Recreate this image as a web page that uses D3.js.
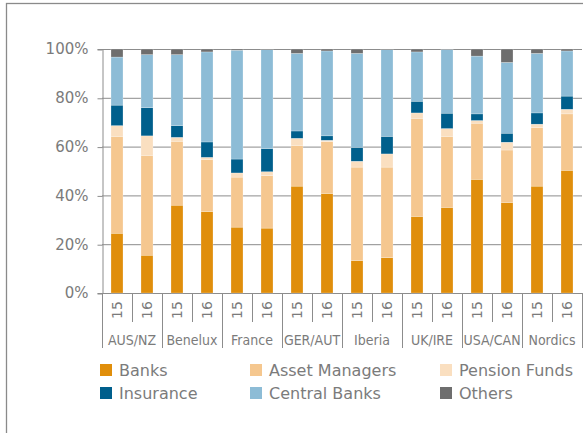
<!DOCTYPE html>
<html>
<head>
<meta charset="utf-8">
<script src="https://cdn.jsdelivr.net/npm/d3@7"></script>
<style>
  html, body { margin: 0; padding: 0; background: #fff; }
  svg { display: block; font-family: "DejaVu Sans", Verdana, sans-serif; }
</style>
</head>
<body>
<svg id="chart" width="583" height="433"></svg>
<script>
// Investor split per region and year (% of allocation)
const regions = ["AUS/NZ", "Benelux", "France", "GER/AUT", "Iberia", "UK/IRE", "USA/CAN", "Nordics"];
const years = ["15", "16"];
const seriesNames = ["Banks", "Asset Managers", "Pension Funds", "Insurance", "Central Banks", "Others"];
const seriesColors = ["#e08e0b", "#f5c78f", "#fadfc0", "#005f8c", "#8dbcd6", "#6e6e6e"];

const banks         = [24.5, 15.5, 36.0, 33.4, 27.0, 26.6, 43.8, 40.8, 13.3, 14.5, 31.4, 35.1, 46.6, 37.1, 43.8, 50.3];
const assetManagers = [39.7, 40.9, 26.2, 21.3, 20.5, 21.5, 16.7, 21.3, 38.3, 37.1, 40.2, 29.1, 23.0, 21.5, 23.9, 23.1];
const pensionFunds  = [ 4.4,  8.0,  1.6,  0.9,  1.7,  1.6,  2.9,  0.5,  2.4,  5.4,  2.2,  3.2,  1.1,  3.2,  1.5,  1.9];
const insurance     = [ 8.4, 11.5,  4.8,  6.3,  5.7,  9.5,  3.0,  1.8,  5.7,  7.2,  4.8,  6.3,  2.7,  3.7,  4.6,  5.4];
const centralBanks  = [19.7, 21.8, 29.1, 36.9, 44.6, 40.5, 31.8, 34.8, 38.5, 35.5, 20.2, 26.1, 23.7, 29.0, 24.4, 18.5];
const others        = [ 3.3,  2.3,  2.3,  1.2,  0.5,  0.3,  1.8,  0.8,  1.8,  0.3,  1.2,  0.2,  2.9,  5.5,  1.8,  0.8];

const yTicks = [0, 20, 40, 60, 80, 100];

const seriesValues = [banks, assetManagers, pensionFunds, insurance, centralBanks, others];

// One row per bar (region × year)
const rows = [];
regions.forEach((r, ri) => {
  years.forEach((yr, yi) => {
    const i = ri * years.length + yi;
    const row = { key: r + "|" + yr, region: r, year: yr };
    seriesNames.forEach((s, si) => { row[s] = seriesValues[si][i]; });
    rows.push(row);
  });
});

const svg = d3.select("#chart");
const textColor = "#7b7b7b";
const lineColor = "#8c8c8c";

// outer frame
svg.append("rect")
  .attr("x", 6.5).attr("y", 3.5)
  .attr("width", 620).attr("height", 460)
  .attr("fill", "none").attr("stroke", "#8a8a8a").attr("stroke-width", 1.3);

const plotLeft = 102, plotRight = 582, plotTop = 49, plotBottom = 293;

const x = d3.scaleBand()
  .domain(rows.map(d => d.key))
  .range([plotLeft, plotRight])
  .paddingInner(0.6)
  .paddingOuter(0.3);

const y = d3.scaleLinear().domain([0, 100]).range([plotBottom, plotTop]);

// horizontal gridlines
svg.append("g")
  .selectAll("line")
  .data(yTicks)
  .join("line")
  .attr("x1", plotLeft).attr("x2", plotRight)
  .attr("y1", d => y(d) + 0.5).attr("y2", d => y(d) + 0.5)
  .attr("stroke", lineColor).attr("stroke-width", 1);

// y axis
const yAxis = svg.append("g")
  .attr("transform", `translate(${plotLeft + 0.5},0)`)
  .call(d3.axisLeft(y).tickValues(yTicks).tickFormat(d => d + "%").tickSize(5).tickPadding(9));
yAxis.select(".domain").attr("stroke", lineColor);
yAxis.selectAll(".tick line").attr("stroke", lineColor).attr("transform", "translate(0,0.5)");
yAxis.selectAll(".tick text")
  .attr("fill", textColor)
  .style("font-size", "15px")
  .style("font-family", "'DejaVu Sans', Verdana, sans-serif");

// stacked bars
const stack = d3.stack().keys(seriesNames);
const stacked = stack(rows);

svg.append("g")
  .selectAll("g")
  .data(stacked)
  .join("g")
  .attr("fill", (d, i) => seriesColors[i])
  .selectAll("rect")
  .data(d => d)
  .join("rect")
  .attr("x", d => x(d.data.key))
  .attr("width", x.bandwidth())
  .attr("y", d => y(d[1]))
  .attr("height", d => y(d[0]) - y(d[1]))
  .attr("stroke", "#ffffff")
  .attr("stroke-width", 0.4)
  .attr("stroke-opacity", 0.6);

// x axis: year separators, region separators, labels
const step = x.step();
const xAxis = svg.append("g");
rows.forEach((d, i) => {
  const bx = plotLeft + i * step;
  const isRegionEdge = i % years.length === 0;
  xAxis.append("line")
    .attr("x1", Math.round(bx) + 0.5).attr("x2", Math.round(bx) + 0.5)
    .attr("y1", plotBottom).attr("y2", isRegionEdge ? 348 : 322)
    .attr("stroke", lineColor).attr("stroke-width", 1);
});
xAxis.append("line")
  .attr("x1", plotRight + 0.5).attr("x2", plotRight + 0.5)
  .attr("y1", plotBottom).attr("y2", 348)
  .attr("stroke", lineColor);

xAxis.selectAll("text.year")
  .data(rows)
  .join("text")
  .attr("class", "year")
  .attr("transform", d => `translate(${x(d.key) + x.bandwidth() / 2 + 5},310) rotate(-90)`)
  .attr("text-anchor", "middle")
  .attr("fill", textColor)
  .style("font-size", "14px")
  .text(d => d.year);

xAxis.selectAll("text.region")
  .data(regions)
  .join("text")
  .attr("class", "region")
  .attr("x", (d, i) => plotLeft + (i + 0.5) * step * years.length)
  .attr("y", 345)
  .attr("text-anchor", "middle")
  .attr("fill", textColor)
  .style("font-family", "'DejaVu Sans Condensed', 'DejaVu Sans', sans-serif")
  .style("font-stretch", "condensed")
  .style("font-size", "14px")
  .text(d => d);

// legend
const legendCols = [100, 250, 440];
const legendRows = [364, 387];
const legend = svg.append("g");
seriesNames.forEach((name, i) => {
  const cx = legendCols[i % 3];
  const cy = legendRows[Math.floor(i / 3)];
  legend.append("rect")
    .attr("x", cx).attr("y", cy)
    .attr("width", 12).attr("height", 12)
    .attr("fill", seriesColors[i]);
  legend.append("text")
    .attr("x", cx + 19).attr("y", cy + 12)
    .attr("fill", textColor)
    .style("font-size", "16px")
    .text(name);
});
</script>
</body>
</html>
